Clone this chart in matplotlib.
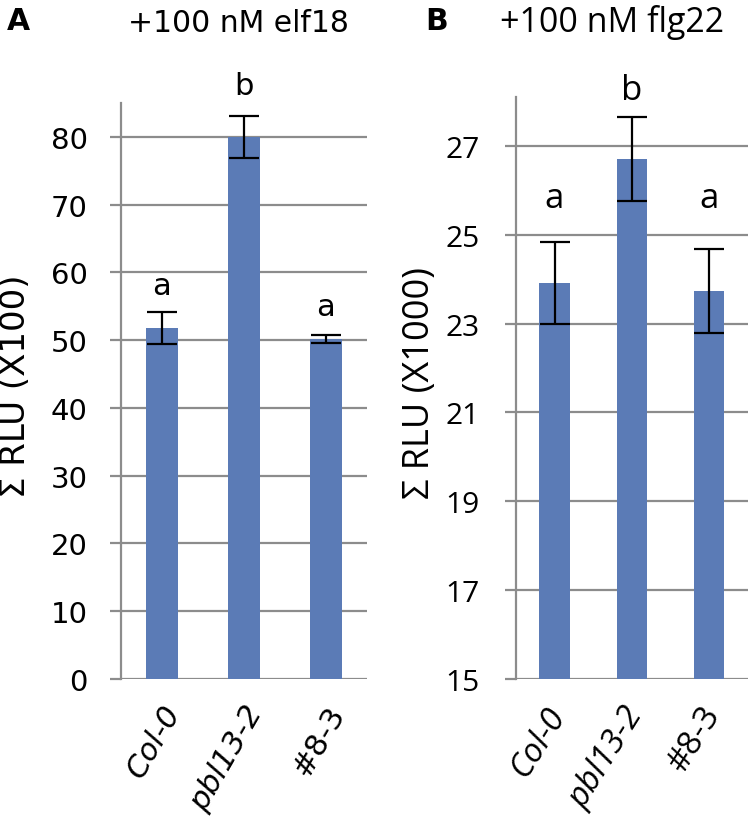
import matplotlib
matplotlib.use("Agg")
import matplotlib.pyplot as plt

categories = ["Col-0", "pbl13-2", "#8-3"]
italic_flags = [True, True, False]

elf18_values = [51.8, 80.0, 50.2]
elf18_errors = [2.4, 3.1, 0.6]
elf18_letters = ["a", "b", "a"]
elf18_letter_y = [58.1, 87.6, 54.9]
elf18_ticks = [0, 10, 20, 30, 40, 50, 60, 70, 80]

flg22_values = [23.92, 26.70, 23.74]
flg22_errors = [0.92, 0.95, 0.94]
flg22_letters = ["a", "b", "a"]
flg22_letter_y = [25.82, 28.27, 25.82]
flg22_ticks = [15, 17, 19, 21, 23, 25, 27]

BAR = "#5B7BB6"
GRID = "#8C8C8C"
PX = 0.72  # points per pixel at 100 dpi

fig = plt.figure(figsize=(7.52, 8.29), dpi=100)


def panel(rect, values, errors, letters, letter_y, ticks, ylim, ylabel, font,
          tick_fs, letter_fs, xlab_fs, ylab_fs, rot, xoff, yoff, pad, label_x):
    ax = fig.add_axes(rect)
    x = list(range(len(categories)))
    ax.set_axisbelow(True)
    for t in ticks:
        ax.axhline(t, color=GRID, lw=1.6, zorder=0)
    ax.bar(x, [v - ylim[0] for v in values], bottom=ylim[0], width=0.39,
           color=BAR, zorder=2)
    ax.errorbar(x, values, yerr=errors, fmt="none", ecolor="black",
                elinewidth=1.6, capsize=11, capthick=1.6, zorder=3)
    for xi, l, ly in zip(x, letters, letter_y):
        ax.text(xi, ly, l, ha="center", va="center", fontsize=letter_fs,
                family=font, clip_on=False)
    ax.set_xlim(-0.5, 2.5)
    ax.set_ylim(*ylim)
    ax.set_yticks(ticks)
    ax.set_yticklabels([str(t) for t in ticks], family=font, fontsize=tick_fs)
    for s in ["top", "right", "bottom"]:
        ax.spines[s].set_visible(False)
    ax.spines["left"].set_color(GRID)
    ax.spines["left"].set_linewidth(1.6)
    ax.tick_params(axis="y", length=8, width=1.6, color=GRID, pad=pad)
    ax.tick_params(axis="x", length=0)
    ax.set_xticks(x)
    ax.set_xticklabels([])
    for xi, c, it in zip(x, categories, italic_flags):
        ax.annotate(c, xy=(xi, 0), xycoords=("data", "axes fraction"),
                    xytext=(xoff * PX, -yoff * PX), textcoords="offset points",
                    ha="right", va="center", rotation=rot,
                    rotation_mode="anchor", fontsize=xlab_fs, family=font,
                    style="italic" if it else "normal")
    ax.set_ylabel(ylabel, family=font, fontsize=ylab_fs)
    ax.yaxis.set_label_coords(label_x, 0.51)
    return ax


panel([0.1609, 0.1797, 0.327, 0.695], elf18_values, elf18_errors,
      elf18_letters, elf18_letter_y, elf18_ticks, (0, 85), "Σ RLU (X100)",
      "DejaVu Sans", 21, 22, 22, 24.5, 60, 12, 28, 16, -0.362)

panel([0.686, 0.1797, 0.3085, 0.702], flg22_values, flg22_errors,
      flg22_letters, flg22_letter_y, flg22_ticks, (15, 28.1), "Σ RLU (X1000)",
      "Open Sans", 21.5, 25, 24, 26, 58, 4, 30, 18, -0.336)

fig.text(7 / 752, 1 - 22 / 829, "A", fontsize=21.5, fontweight="bold",
         family="DejaVu Sans", ha="left", va="center")
fig.text(238 / 752, 1 - 24 / 829, "+100 nM elf18", fontsize=21.5,
         family="DejaVu Sans", ha="center", va="center")
fig.text(425 / 752, 1 - 22 / 829, "B", fontsize=21.5, fontweight="bold",
         family="DejaVu Sans", ha="left", va="center")
fig.text(612 / 752, 1 - 23 / 829, "+100 nM flg22", fontsize=24.5,
         family="Open Sans", ha="center", va="center")

fig.savefig("out.png", dpi=100)
